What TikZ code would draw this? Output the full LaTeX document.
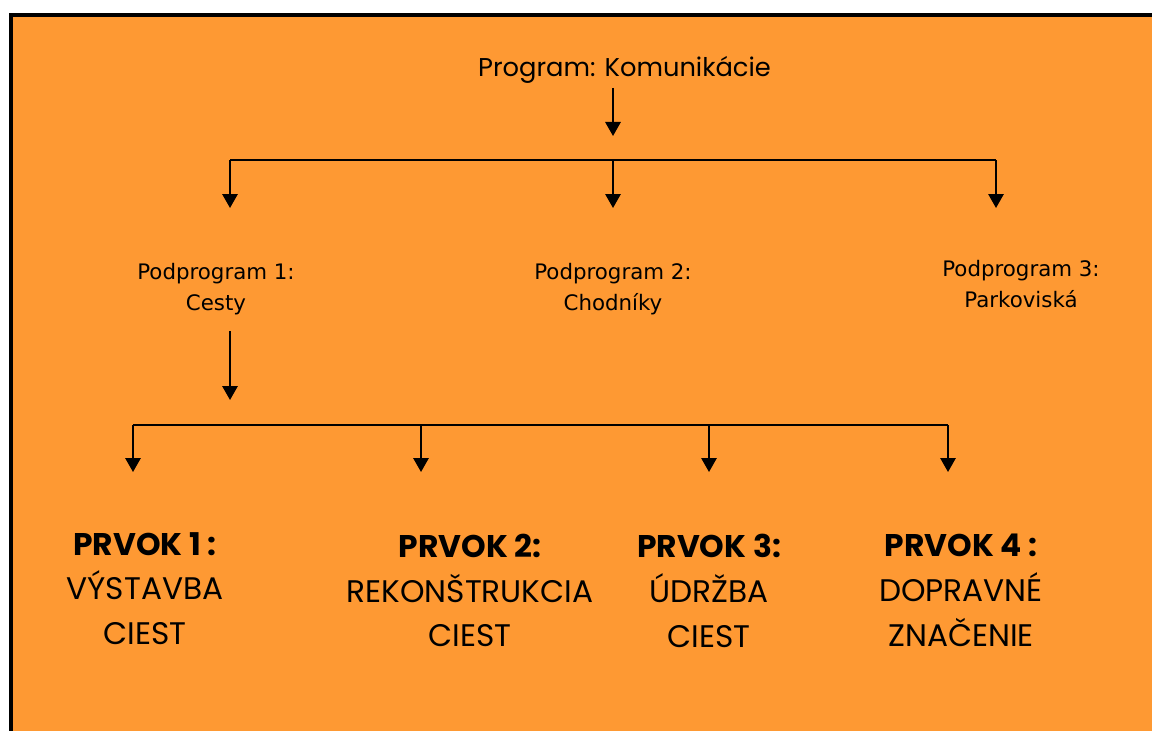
\documentclass[tikz,border=0pt]{standalone}
\usepackage{fontspec}
\setmainfont{Poppins}
\newfontfamily\subfont{DejaVu Sans}
\newcommand\elheadfont{\fontsize{23.5}{33.5}\selectfont\bfseries}
\usetikzlibrary{arrows.meta}
\definecolor{panel}{RGB}{254,153,51}
\begin{document}
\begin{tikzpicture}[x=0.75pt,y=-0.75pt,
  link/.style={line width=1.5pt},
  arrowlink/.style={link,-{Triangle[width=11.5pt,length=10.5pt]}},
  toptext/.style={font=\fontsize{19.3}{23}\selectfont, inner sep=0},
  subtext/.style={font=\subfont\fontsize{16}{23.25}\selectfont, align=center, inner sep=0, anchor=north},
  element/.style={font=\fontsize{23.4}{33.5}\selectfont, align=center, inner sep=0, anchor=north},
]
\useasboundingbox (0,0) rectangle (1152,731);
\clip (0,0) rectangle (1152,731);
% panel with its black frame
\draw[line width=3pt, fill=panel] (11,15) rectangle (1200,780);

% programme and its three sub-programmes
\node[toptext] (prog) at (624.5,70) {Program: Komunikácie};
\node[subtext] (sub1) at (216,263) {Podprogram 1:\\Cesty};
\node[subtext] (sub2) at (613,263) {Podprogram 2:\\Chodníky};
\node[subtext] (sub3) at (1021,260) {Podprogram 3:\\Parkoviská};

% elements of sub-programme 1
\node[element] (el1) at (145,532) {{\elheadfont PRVOK 1 :}\\VÝSTAVBA\\CIEST};
\node[element] (el2) at (470,534) {{\elheadfont PRVOK 2:}\\REKONŠTRUKCIA\\CIEST};
\node[element] (el3) at (709,534) {{\elheadfont PRVOK 3:}\\ÚDRŽBA\\CIEST};
\node[element] (el4) at (961,534) {{\elheadfont PRVOK 4 :}\\DOPRAVNÉ\\ZNAČENIE};

% first level bus
\coordinate (progtip) at (613,136);
\coordinate (busA1) at (230,160);
\coordinate (busA2) at (613,160);
\coordinate (busA3) at (996,160);
\coordinate (tipA1) at (230,208);
\coordinate (tipA2) at (613,208);
\coordinate (tipA3) at (996,208);
\draw[arrowlink, shorten <=3pt] (prog.south -| progtip) -- (progtip);
\draw[link] (busA1) -- (busA3);
\draw[arrowlink] (busA1) -- (tipA1);
\draw[arrowlink] (busA2) -- (tipA2);
\draw[arrowlink] (busA3) -- (tipA3);

% second level bus
\coordinate (subtip) at (230,400);
\coordinate (busB1) at (133,425);
\coordinate (busB2) at (421,425);
\coordinate (busB3) at (709,425);
\coordinate (busB4) at (948,425);
\coordinate (tipB1) at (133,472);
\coordinate (tipB2) at (421,472);
\coordinate (tipB3) at (709,472);
\coordinate (tipB4) at (948,472);
\draw[arrowlink, shorten <=12pt] (sub1.south -| subtip) -- (subtip);
\draw[link] (busB1) -- (busB4);
\draw[arrowlink] (busB1) -- (tipB1);
\draw[arrowlink] (busB2) -- (tipB2);
\draw[arrowlink] (busB3) -- (tipB3);
\draw[arrowlink] (busB4) -- (tipB4);
\end{tikzpicture}
\end{document}
